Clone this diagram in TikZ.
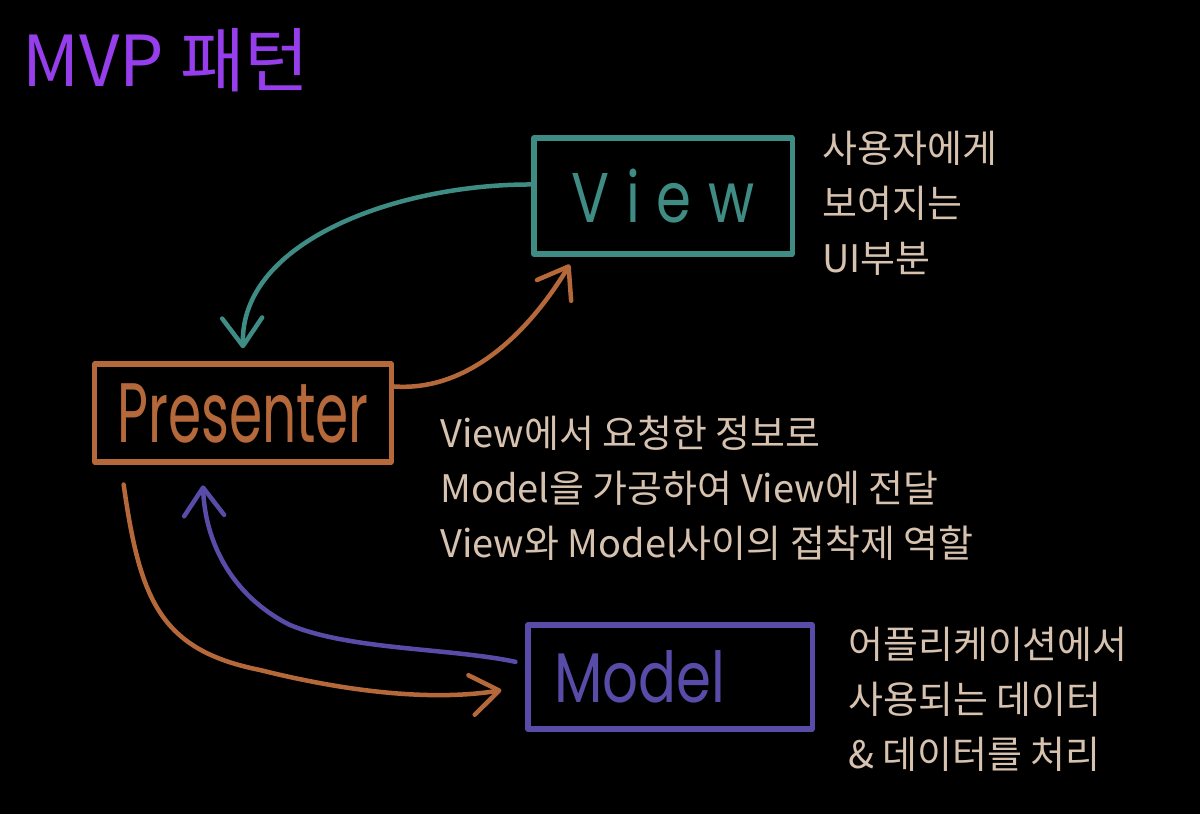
\documentclass[tikz,border=0pt]{standalone}
\usepackage{graphicx}
\usepackage{fontspec}
\setmainfont{Noto Sans CJK KR}
\newfontfamily\handfont{Poppins}
\usetikzlibrary{arrows.meta, calc}

\definecolor{viewteal}{RGB}{62,140,132}
\definecolor{presorange}{RGB}{181,104,58}
\definecolor{modelpurple}{RGB}{88,76,168}
\definecolor{titlepurple}{RGB}{150,62,235}
\definecolor{notebeige}{RGB}{214,194,174}

\begin{document}
\begin{tikzpicture}[
    x=0.025cm, y=-0.025cm,
    every node/.style={align=center},
    box/.style={draw, rectangle, line width=3.6pt, line join=round, inner sep=0pt, font=\handfont\fontsize{40}{40}\selectfont},
    flow/.style={line width=3.2pt, line cap=round, -{Straight Barb[length=0.7cm, width=1cm, round]}},
    note/.style={anchor=north west, align=left, inner sep=0pt, text=notebeige, font=\fontsize{27}{39}\selectfont}
]

    % Dark page
    \fill[black] (0,0) rectangle (1200,814);
    \useasboundingbox (0,0) rectangle (1200,814);

    % Title
    \node[text=titlepurple, font=\fontsize{50}{50}\selectfont] (title) at (166,60) {MVP 패턴};

    % The three boxes
    \node[box, draw=viewteal, text=viewteal, minimum width=6.45cm, minimum height=2.9cm] (view) at (663,196) {\scalebox{1}[1.25]{\addfontfeature{LetterSpace=30}View}};
    \node[box, draw=presorange, text=presorange, minimum width=7.4cm, minimum height=2.45cm] (presenter) at (243,413) {\scalebox{0.95}[1.5]{Presenter}};
    \node[box, draw=modelpurple, text=modelpurple, minimum width=7.1cm, minimum height=2.6cm] (model) at (670,677) {\scalebox{1}[1.25]{Model}\hspace*{1.5cm}};

    % Notes beside the boxes
    \node[note] (viewnote) at (822,131) {사용자에게\\보여지는\\UI부분};
    \node[note] (presnote) at (440,416) {View에서 요청한 정보로\\Model을 가공하여 View에 전달\\View와 Model사이의 접착제 역할};
    \node[note] (modelnote) at (848,627) {어플리케이션에서\\사용되는 데이터\\\& 데이터를 처리};

    % View -> Presenter
    \draw[flow, viewteal] (view.175) .. controls (400,184) and (240,240) .. ([yshift=0.33cm]presenter.north);

    % Presenter -> View
    \draw[flow, presorange] (presenter.10) .. controls (470,392) and (530,330) .. ([yshift=-0.2cm]view.213);

    % Presenter -> Model
    \draw[flow, presorange] ([xshift=0.78cm, yshift=-0.5cm]presenter.south west) .. controls (140,600) and (160,650) .. (260,670) .. controls (360,695) and (440,700) .. ([xshift=-0.6cm, yshift=-0.33cm]model.west);

    % Model -> Presenter
    \draw[flow, modelpurple] ([xshift=-0.25cm, yshift=0.38cm]model.west) .. controls (450,648) and (350,650) .. (290,625) .. controls (230,595) and (205,540) .. ([xshift=-1cm, yshift=-0.52cm]presenter.south);

\end{tikzpicture}
\end{document}
